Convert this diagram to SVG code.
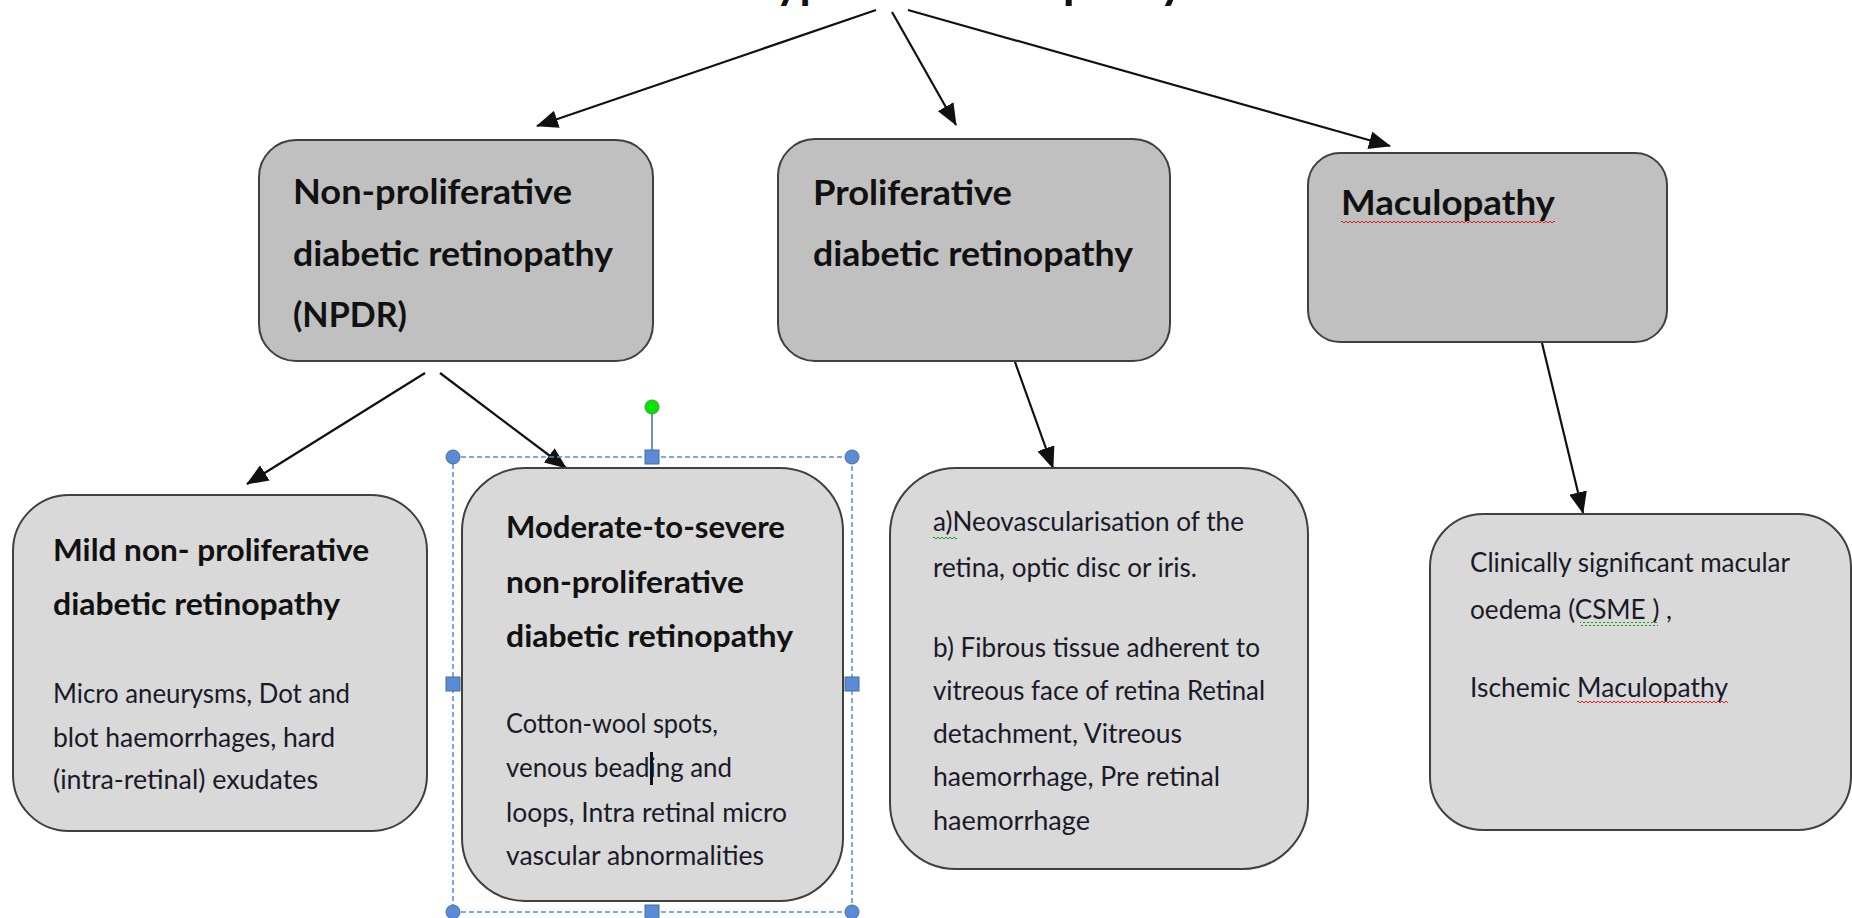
<svg xmlns="http://www.w3.org/2000/svg" width="1852" height="918" viewBox="0 0 1852 918">
<style>
.box{stroke:#404040;stroke-width:2}
.top{fill:#c0c0c0}
.bot{fill:#d9d9d9}
.h{font-family:Lato,"Liberation Sans",sans-serif;font-weight:bold;fill:#111}
.h1{font-size:35px}
.h2{font-size:31px}
.b{font-family:Lato,"Liberation Sans",sans-serif;font-size:26px;fill:#1a1a2a}
.conn{stroke:#111;stroke-width:2.2;fill:none;marker-end:url(#arrow)}
.sel{fill:none;stroke:#5b8bd6;stroke-width:1.5;stroke-dasharray:5 3}
.hnd{fill:#5b8bd6;stroke:#41719c;stroke-width:1}
</style>
<defs>
<marker id="arrow" markerUnits="userSpaceOnUse" markerWidth="22" markerHeight="18" viewBox="0 0 22 18" refX="21" refY="9" orient="auto">
<path d="M0,0 L22,9 L0,18 z" fill="#111"/>
</marker>
<pattern id="redwave" patternUnits="userSpaceOnUse" width="4" height="4">
<path d="M0,3 L2,1 L4,3" fill="none" stroke="#e02020" stroke-width="1"/>
</pattern>
<pattern id="greenwave" patternUnits="userSpaceOnUse" width="4" height="4">
<path d="M0,3 L2,1 L4,3" fill="none" stroke="#20a020" stroke-width="1"/>
</pattern>
</defs>
<rect width="1852" height="918" fill="#fff"/>

<g id="title">
<text class="h" y="-2" font-size="48"><tspan x="752" textLength="170" lengthAdjust="spacingAndGlyphs">Types of</tspan> <tspan x="933" textLength="252" lengthAdjust="spacingAndGlyphs">retinopathy</tspan></text>
</g>

<g id="connectors">
<path class="conn" d="M876,10 L537,126"/>
<path class="conn" d="M892,12 L956,125"/>
<path class="conn" d="M908,10 L1390,146"/>
<path class="conn" d="M425,373 L247,484"/>
<path class="conn" d="M440,373 L566,468"/>
<path class="conn" d="M1015,362 L1053,468"/>
<path class="conn" d="M1542,343 L1583,513"/>
</g>

<g id="npdr">
<rect class="box top" x="259" y="140" width="394" height="221" rx="37"/>
<text class="h h1" x="293" y="204" textLength="279" lengthAdjust="spacingAndGlyphs">Non-proliferative</text>
<text class="h h1" x="293" y="266" textLength="320" lengthAdjust="spacingAndGlyphs">diabetic retinopathy</text>
<text class="h h1" x="293" y="327" textLength="114" lengthAdjust="spacingAndGlyphs">(NPDR)</text>
</g>

<g id="pdr">
<rect class="box top" x="778" y="139" width="392" height="222" rx="37"/>
<text class="h h1" x="813" y="205" textLength="199" lengthAdjust="spacingAndGlyphs">Proliferative</text>
<text class="h h1" x="813" y="266" textLength="320" lengthAdjust="spacingAndGlyphs">diabetic retinopathy</text>
</g>

<g id="maculopathy">
<rect class="box top" x="1308" y="153" width="359" height="189" rx="32"/>
<text class="h h1" x="1341" y="215" textLength="214" lengthAdjust="spacingAndGlyphs">Maculopathy</text>
<rect x="1341" y="221" width="214" height="4" fill="url(#redwave)"/>
</g>

<g id="mild">
<rect class="box bot" x="13" y="495" width="414" height="336" rx="56"/>
<text class="h h2" x="53" y="561" textLength="316" lengthAdjust="spacingAndGlyphs">Mild non- proliferative</text>
<text class="h h2" x="53" y="615" textLength="287" lengthAdjust="spacingAndGlyphs">diabetic retinopathy</text>
<text class="b" x="53" y="703" textLength="297" lengthAdjust="spacingAndGlyphs">Micro aneurysms, Dot and</text>
<text class="b" x="53" y="747" textLength="282" lengthAdjust="spacingAndGlyphs">blot haemorrhages, hard</text>
<text class="b" x="53" y="789" textLength="265" lengthAdjust="spacingAndGlyphs">(intra-retinal) exudates</text>
</g>

<g id="moderate">
<rect class="box bot" x="462" y="468" width="381" height="433" rx="63"/>
<text class="h h2" x="506" y="538" textLength="279" lengthAdjust="spacingAndGlyphs">Moderate-to-severe</text>
<text class="h h2" x="506" y="593" textLength="238" lengthAdjust="spacingAndGlyphs">non-proliferative</text>
<text class="h h2" x="506" y="647" textLength="287" lengthAdjust="spacingAndGlyphs">diabetic retinopathy</text>
<text class="b" x="506" y="733" textLength="212" lengthAdjust="spacingAndGlyphs">Cotton-wool spots,</text>
<text class="b" x="506" y="777" textLength="226" lengthAdjust="spacingAndGlyphs">venous beading and</text>
<text class="b" x="506" y="822" textLength="281" lengthAdjust="spacingAndGlyphs">loops, Intra retinal micro</text>
<text class="b" x="506" y="865" textLength="258" lengthAdjust="spacingAndGlyphs">vascular abnormalities</text>
<rect x="650" y="752" width="3" height="33" fill="#111"/>
</g>

<g id="selection">
<rect class="sel" x="453" y="457" width="399" height="455"/>
<line x1="652" y1="407" x2="652" y2="450" stroke="#41719c" stroke-width="1.5"/>
<circle cx="652" cy="407" r="7" fill="#00e600" stroke="#3a9a3a" stroke-width="1"/>
<circle class="hnd" cx="453" cy="457" r="7"/>
<circle class="hnd" cx="852" cy="457" r="7"/>
<circle class="hnd" cx="453" cy="912" r="7"/>
<circle class="hnd" cx="852" cy="912" r="7"/>
<rect class="hnd" x="645" y="450" width="14" height="14"/>
<rect class="hnd" x="446" y="677" width="14" height="14"/>
<rect class="hnd" x="845" y="677" width="14" height="14"/>
<rect class="hnd" x="645" y="905" width="14" height="14"/>
</g>

<g id="pdr-signs">
<rect class="box bot" x="890" y="468" width="418" height="401" rx="66"/>
<text class="b" x="933" y="531" textLength="311" lengthAdjust="spacingAndGlyphs">a)Neovascularisation of the</text>
<rect x="933" y="536" width="24" height="4" fill="url(#greenwave)"/>
<text class="b" x="933" y="577" textLength="264" lengthAdjust="spacingAndGlyphs">retina, optic disc or iris.</text>
<text class="b" x="933" y="657" textLength="327" lengthAdjust="spacingAndGlyphs">b) Fibrous tissue adherent to</text>
<text class="b" x="933" y="700" textLength="332" lengthAdjust="spacingAndGlyphs">vitreous face of retina Retinal</text>
<text class="b" x="933" y="743" textLength="249" lengthAdjust="spacingAndGlyphs">detachment, Vitreous</text>
<text class="b" x="933" y="786" textLength="287" lengthAdjust="spacingAndGlyphs">haemorrhage, Pre retinal</text>
<text class="b" x="933" y="830" textLength="157" lengthAdjust="spacingAndGlyphs">haemorrhage</text>
</g>

<g id="macula-signs">
<rect class="box bot" x="1430" y="514" width="421" height="316" rx="53"/>
<text class="b" x="1470" y="572" textLength="320" lengthAdjust="spacingAndGlyphs">Clinically significant macular</text>
<text class="b" x="1470" y="619" textLength="202" lengthAdjust="spacingAndGlyphs">oedema (CSME ) ,</text>
<rect x="1580" y="622" width="78" height="4" fill="url(#greenwave)"/>
<text class="b" x="1470" y="697" textLength="258" lengthAdjust="spacingAndGlyphs">Ischemic Maculopathy</text>
<rect x="1577" y="700" width="151" height="4" fill="url(#redwave)"/>
</g>
</svg>
